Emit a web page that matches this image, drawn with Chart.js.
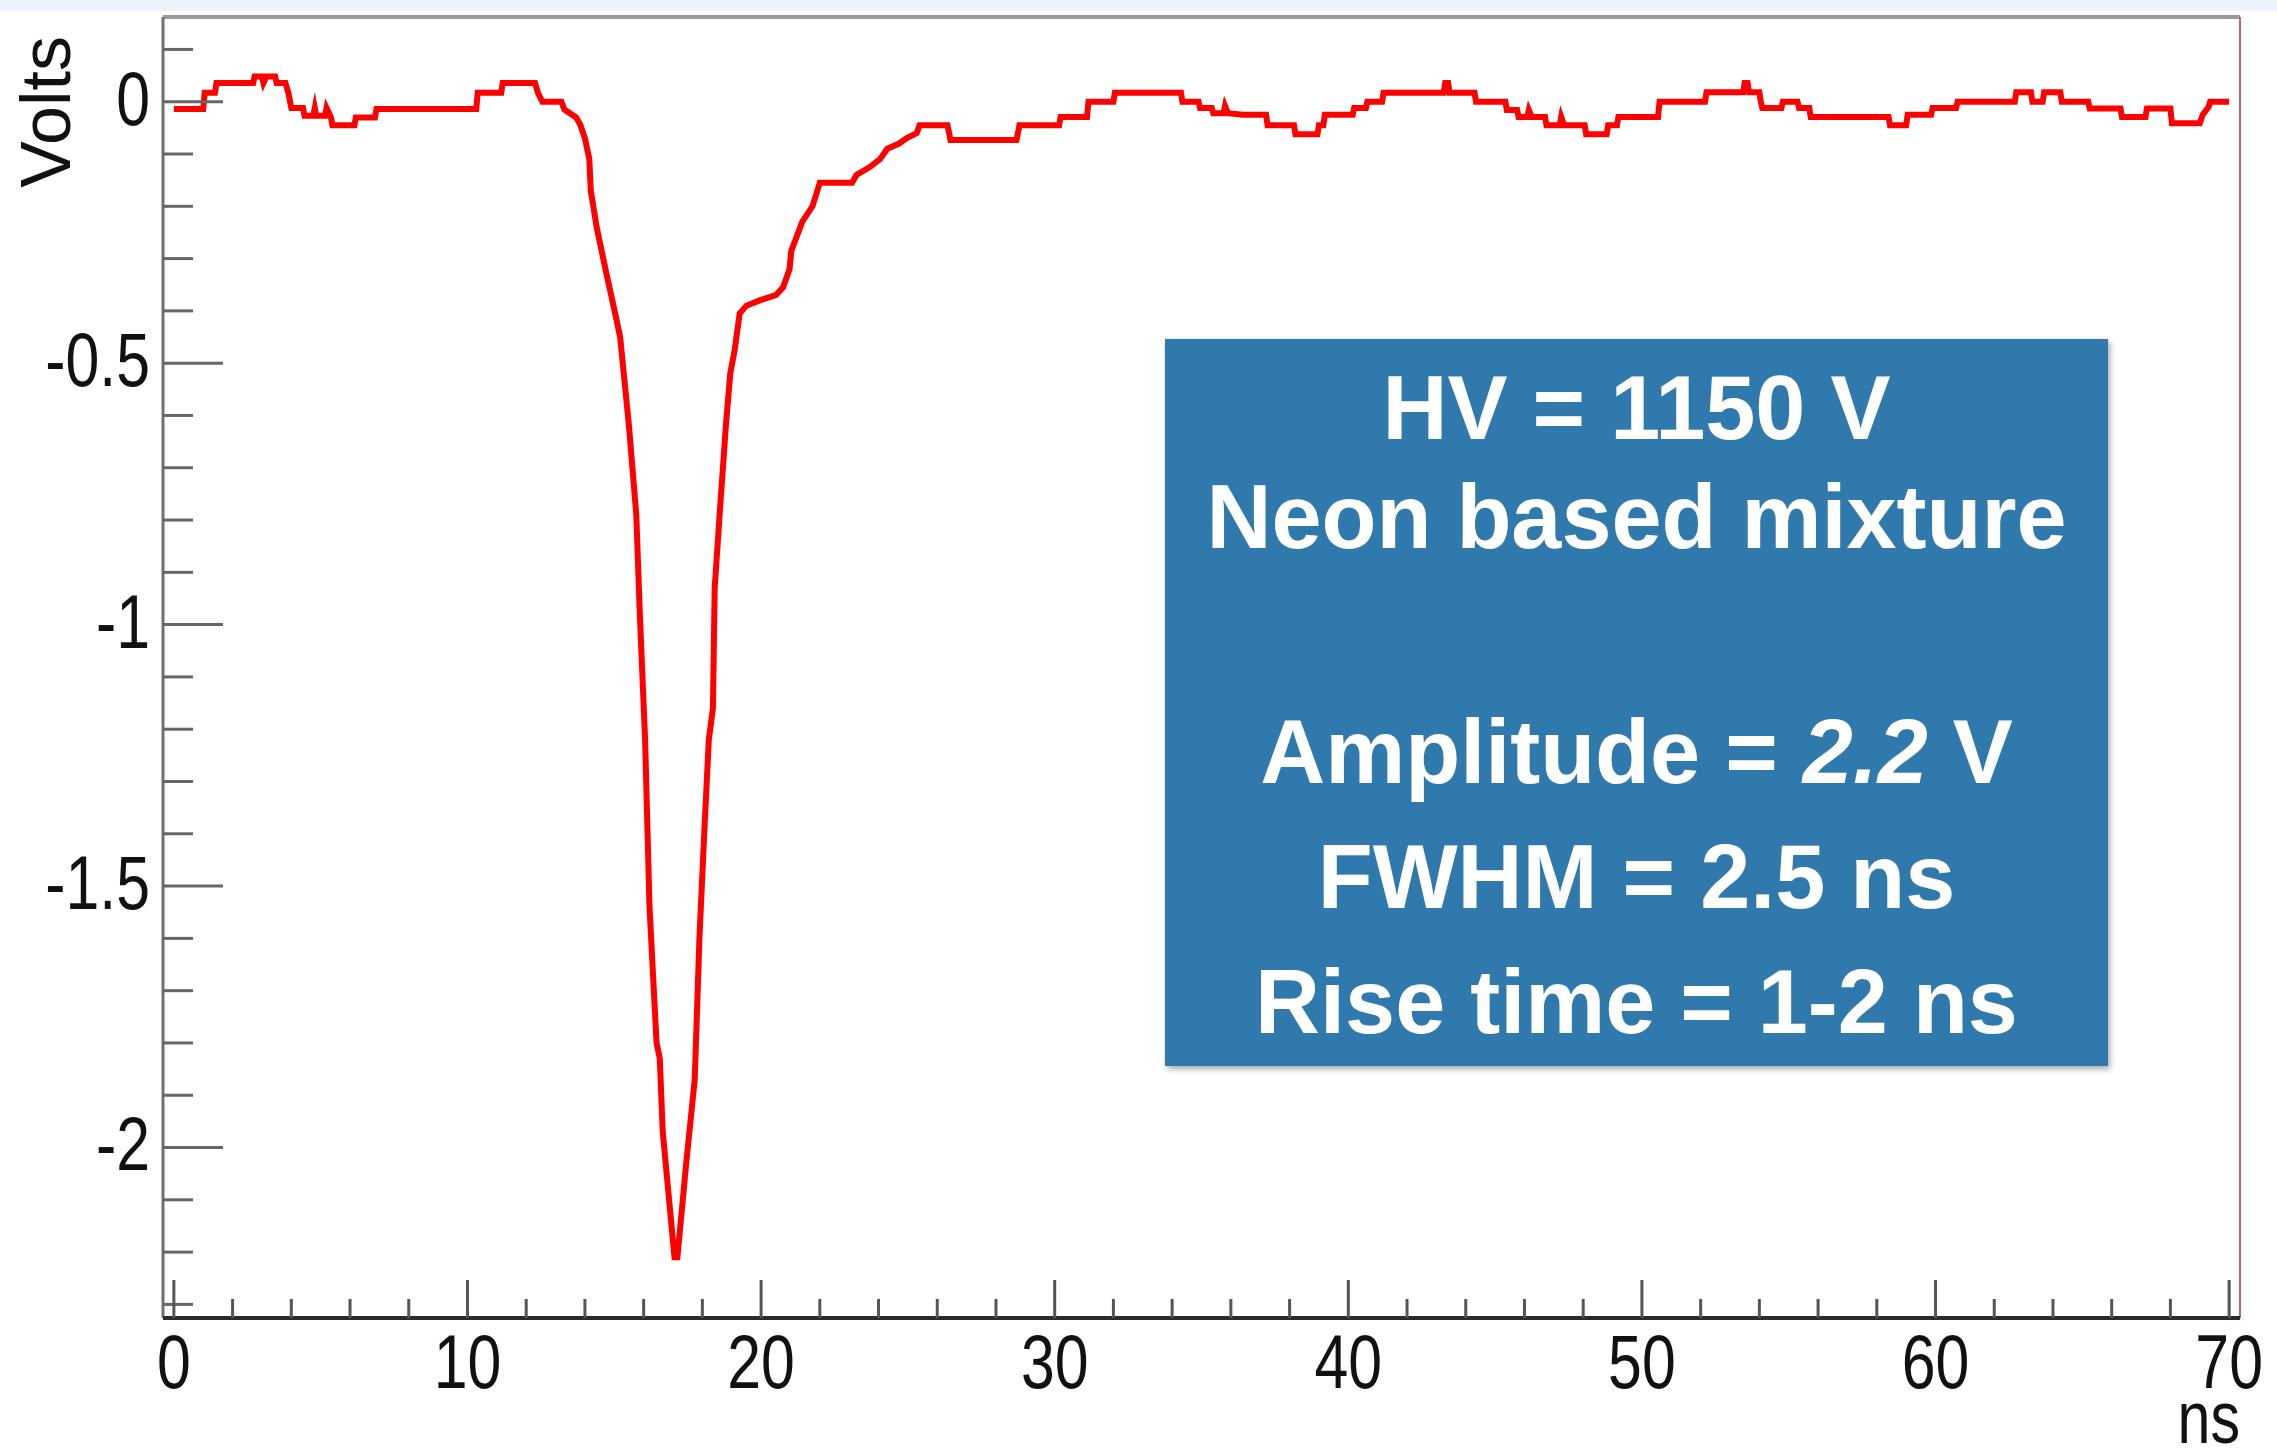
<!DOCTYPE html>
<html>
<head>
<meta charset="utf-8">
<script src="https://cdn.jsdelivr.net/npm/chart.js@4.4.0/dist/chart.umd.min.js"></script>
<style>
  body { margin: 0; background: #fff; }
  #wrap { width: 2277px; height: 1449px; position: relative; }
</style>
</head>
<body>
<div id="wrap"><canvas id="c"></canvas></div>
<script>
// waveform (ns, V)
const time = [
  0.0, 1.0, 1.05, 1.4, 1.45, 2.7, 2.75, 3.0, 3.05, 3.15, 3.45, 3.5, 3.8, 3.9, 4.0, 4.4, 4.45, 4.75, 4.8, 4.85,
  5.15, 5.2, 5.35, 5.4, 6.15, 6.2, 6.85, 6.9, 10.3, 10.35, 11.15, 11.2, 12.3, 12.4, 12.55, 13.2, 13.3, 13.7, 13.85, 14.0,
  14.15, 14.2, 14.4, 14.7, 15.05, 15.2, 15.5, 15.75, 15.87, 16.05, 16.2, 16.44, 16.55, 16.65, 17.05, 17.15, 17.45, 17.74, 17.9, 18.08,
  18.22, 18.36, 18.42, 18.6, 18.8, 18.95, 19.1, 19.27, 19.5, 19.95, 20.5, 20.75, 20.97, 21.03, 21.2, 21.4, 21.75, 22.0, 23.1, 23.25,
  23.7, 24.05, 24.3, 24.7, 24.95, 25.3, 25.4, 26.35, 26.45, 28.7, 28.8, 30.15, 30.2, 31.1, 31.15, 32.0, 32.05, 34.3, 34.35, 34.9,
  34.95, 35.35, 35.4, 35.75, 35.8, 35.9, 36.4, 37.2, 37.25, 38.15, 38.2, 38.95, 39.0, 39.15, 39.2, 40.15, 40.2, 40.6, 40.65, 41.15,
  41.2, 43.25, 43.3, 43.4, 43.45, 44.3, 44.35, 45.35, 45.4, 45.75, 45.8, 46.1, 46.15, 46.25, 46.7, 46.75, 47.2, 47.25, 47.35, 48.05,
  48.1, 48.8, 48.85, 49.15, 49.2, 50.55, 50.6, 52.15, 52.2, 53.45, 53.5, 53.6, 53.65, 54.0, 54.05, 54.1, 54.75, 54.8, 55.3, 55.35,
  55.7, 55.75, 58.4, 58.45, 59.0, 59.05, 59.85, 59.9, 60.7, 60.75, 62.7, 62.75, 63.25, 63.3, 63.65, 63.7, 64.25, 64.3, 65.2, 65.25,
  66.3, 66.35, 67.15, 67.2, 68.0, 68.05, 69.0, 69.1, 69.3, 69.35, 70.0
];
const volts = [
  -0.014, -0.014, 0.017, 0.017, 0.036, 0.036, 0.048, 0.048, 0.036, 0.048, 0.048, 0.036, 0.036, 0.017, -0.012, -0.012, -0.027, -0.027, -0.012, -0.027,
  -0.027, -0.012, -0.03, -0.045, -0.045, -0.03, -0.03, -0.014, -0.014, 0.017, 0.017, 0.036, 0.036, 0.017, 0.0, 0.0, -0.015, -0.03, -0.045, -0.07,
  -0.11, -0.17, -0.24, -0.32, -0.41, -0.45, -0.62, -0.79, -0.98, -1.22, -1.54, -1.80, -1.83, -1.97, -2.21, -2.21, -2.03, -1.87, -1.60, -1.38,
  -1.22, -1.16, -0.93, -0.78, -0.62, -0.52, -0.475, -0.405, -0.39, -0.38, -0.37, -0.355, -0.32, -0.285, -0.26, -0.23, -0.20, -0.155, -0.155, -0.14,
  -0.125, -0.11, -0.09, -0.08, -0.07, -0.06, -0.045, -0.045, -0.073, -0.073, -0.045, -0.045, -0.029, -0.029, 0.0, 0.0, 0.017, 0.017, 0.0, 0.0,
  -0.012, -0.012, -0.022, -0.022, -0.008, -0.022, -0.025, -0.025, -0.045, -0.045, -0.062, -0.062, -0.045, -0.045, -0.025, -0.025, -0.012, -0.012, 0.0, 0.0,
  0.017, 0.017, 0.036, 0.036, 0.017, 0.017, 0.0, 0.0, -0.016, -0.016, -0.029, -0.029, -0.016, -0.029, -0.029, -0.045, -0.045, -0.029, -0.045, -0.045,
  -0.062, -0.062, -0.045, -0.045, -0.029, -0.029, 0.0, 0.0, 0.018, 0.018, 0.036, 0.036, 0.018, 0.018, 0.0, -0.012, -0.012, 0.0, 0.0, -0.012,
  -0.012, -0.029, -0.029, -0.045, -0.045, -0.025, -0.025, -0.012, -0.012, 0.0, 0.0, 0.018, 0.018, 0.0, 0.0, 0.018, 0.018, 0.0, 0.0, -0.013,
  -0.013, -0.029, -0.029, -0.013, -0.013, -0.041, -0.041, -0.025, -0.01, 0.0, 0.0
];

const xMajor = [0, 10, 20, 30, 40, 50, 60, 70];
const xMajorText = ['0', '10', '20', '30', '40', '50', '60', '70'];
const xMinor = [2, 4, 6, 8, 12, 14, 16, 18, 22, 24, 26, 28, 32, 34, 36, 38, 42, 44, 46, 48, 52, 54, 56, 58, 62, 64, 66, 68];
const yMajor = [0, -0.5, -1, -1.5, -2];
const yMajorText = ['0', '-0.5', '-1', '-1.5', '-2'];
const yMinor = [0.1, -0.1, -0.2, -0.3, -0.4, -0.6, -0.7, -0.8, -0.9, -1.1, -1.2, -1.3, -1.4, -1.6, -1.7, -1.8, -1.9, -2.1, -2.2, -2.3];
const xTitle = 'ns';
const yTitle = 'Volts';

const infoLines = [
  [{ t: 'HV = 1150 V' }],
  [{ t: 'Neon based mixture' }],
  [{ t: 'Amplitude = ' }, { t: '2.2', it: true }, { t: ' V' }],
  [{ t: 'FWHM = 2.5 ns' }],
  [{ t: 'Rise time = 1-2 ns' }]
];
const infoBaselines = [439, 548, 783, 908, 1033];

const axisFont = "'Liberation Sans', Arial, sans-serif";
const squeeze = 0.8; // ROOT labels look narrow

// text squeezed horizontally around its anchor
function narrowText(ctx, txt, x, y, align) {
  ctx.save();
  ctx.translate(x, y);
  ctx.scale(squeeze, 1);
  ctx.textAlign = align;
  ctx.fillText(txt, 0, 0);
  ctx.restore();
}

const rootFrame = {
  id: 'rootFrame',
  beforeDraw(chart) {
    const ctx = chart.ctx;
    ctx.save();
    ctx.fillStyle = '#ffffff';
    ctx.fillRect(0, 0, chart.width, chart.height);
    ctx.fillStyle = '#ebf4f8';
    ctx.fillRect(0, 0, chart.width, 11);
    ctx.restore();
  },
  afterDatasetsDraw(chart) {
    const ctx = chart.ctx;
    const a = chart.chartArea;
    const xs = chart.scales.x, ys = chart.scales.y;
    ctx.save();

    // frame
    ctx.lineCap = 'butt';
    ctx.strokeStyle = '#9a9a9a';
    ctx.lineWidth = 4;
    ctx.beginPath(); ctx.moveTo(a.left, a.top); ctx.lineTo(a.right, a.top); ctx.stroke();
    ctx.strokeStyle = '#b06a6a';
    ctx.lineWidth = 2;
    ctx.beginPath(); ctx.moveTo(a.right, a.top); ctx.lineTo(a.right, a.bottom); ctx.stroke();
    ctx.strokeStyle = '#707070';
    ctx.lineWidth = 3;
    ctx.beginPath(); ctx.moveTo(a.left, a.top); ctx.lineTo(a.left, a.bottom); ctx.stroke();
    ctx.strokeStyle = '#2a2a2a';
    ctx.lineWidth = 4;
    ctx.beginPath(); ctx.moveTo(a.left, a.bottom); ctx.lineTo(a.right, a.bottom); ctx.stroke();

    // inward ticks
    ctx.strokeStyle = '#666666';
    ctx.lineWidth = 3;
    yMajor.concat(yMinor).forEach(v => {
      const p = ys.getPixelForValue(v);
      const len = yMajor.includes(v) ? 60 : 30;
      ctx.beginPath(); ctx.moveTo(a.left, p); ctx.lineTo(a.left + len, p); ctx.stroke();
    });
    ctx.strokeStyle = '#555555';
    ctx.lineWidth = 3;
    xMajor.concat(xMinor).forEach(v => {
      const p = xs.getPixelForValue(v);
      const len = xMajor.includes(v) ? 38 : 19;
      ctx.beginPath(); ctx.moveTo(p, a.bottom); ctx.lineTo(p, a.bottom - len); ctx.stroke();
    });

    // tick labels
    ctx.fillStyle = '#111111';
    ctx.font = '76px ' + axisFont;
    ctx.textBaseline = 'middle';
    yMajor.forEach((v, i) => narrowText(ctx, yMajorText[i], a.left - 13, ys.getPixelForValue(v) + 2, 'right'));
    ctx.textBaseline = 'alphabetic';
    xMajor.forEach((v, i) => narrowText(ctx, xMajorText[i], xs.getPixelForValue(v), 1388, 'center'));

    // axis titles
    ctx.font = '74px ' + axisFont;
    narrowText(ctx, xTitle, a.right, 1443, 'right');
    ctx.save();
    ctx.translate(70, 36);
    ctx.rotate(-Math.PI / 2);
    ctx.font = '70px ' + axisFont;
    ctx.textAlign = 'right';
    ctx.fillText(yTitle, 0, 0);
    ctx.restore();

    // info box
    const bx = 1165, by = 339, bw = 943, bh = 727;
    ctx.save();
    ctx.shadowColor = 'rgba(0,0,0,0.35)';
    ctx.shadowBlur = 6;
    ctx.shadowOffsetX = 2;
    ctx.shadowOffsetY = 3;
    ctx.fillStyle = '#2f79ad';
    ctx.fillRect(bx, by, bw, bh);
    ctx.restore();

    ctx.fillStyle = '#ffffff';
    ctx.textAlign = 'left';
    const cx = bx + bw / 2;
    infoLines.forEach((line, i) => {
      const fonts = line.map(s => (s.it ? 'italic ' : '') + "bold 90px 'Liberation Sans', Arial, sans-serif");
      let total = 0;
      const widths = line.map((s, k) => { ctx.font = fonts[k]; const w = ctx.measureText(s.t).width; total += w; return w; });
      let x = cx - total / 2;
      line.forEach((s, k) => {
        ctx.font = fonts[k];
        ctx.fillText(s.t, x, infoBaselines[i]);
        x += widths[k];
      });
    });
    ctx.restore();
  }
};

new Chart(document.getElementById('c'), {
  type: 'line',
  data: {
    datasets: [{
      data: time.map((t, i) => ({ x: t, y: volts[i] })),
      borderColor: '#ff0000',
      borderWidth: 6,
      pointRadius: 0,
      tension: 0,
      fill: false
    }]
  },
  options: {
    responsive: true,
    maintainAspectRatio: false,
    animation: false,
    events: [],
    layout: { padding: { top: 17, right: 37, left: 0, bottom: 0 } },
    plugins: { legend: { display: false }, tooltip: { enabled: false } },
    scales: {
      x: {
        type: 'linear',
        min: -0.37,
        max: 70.37,
        afterFit: s => { s.height = 131; s.paddingLeft = 0; s.paddingRight = 0; },
        grid: { display: false, drawTicks: false },
        border: { display: false },
        ticks: { display: false }
      },
      y: {
        min: -2.326,
        max: 0.162,
        afterFit: s => { s.width = 163; s.paddingTop = 0; s.paddingBottom = 0; },
        grid: { display: false, drawTicks: false },
        border: { display: false },
        ticks: { display: false }
      }
    }
  },
  plugins: [rootFrame]
});
</script>
</body>
</html>
